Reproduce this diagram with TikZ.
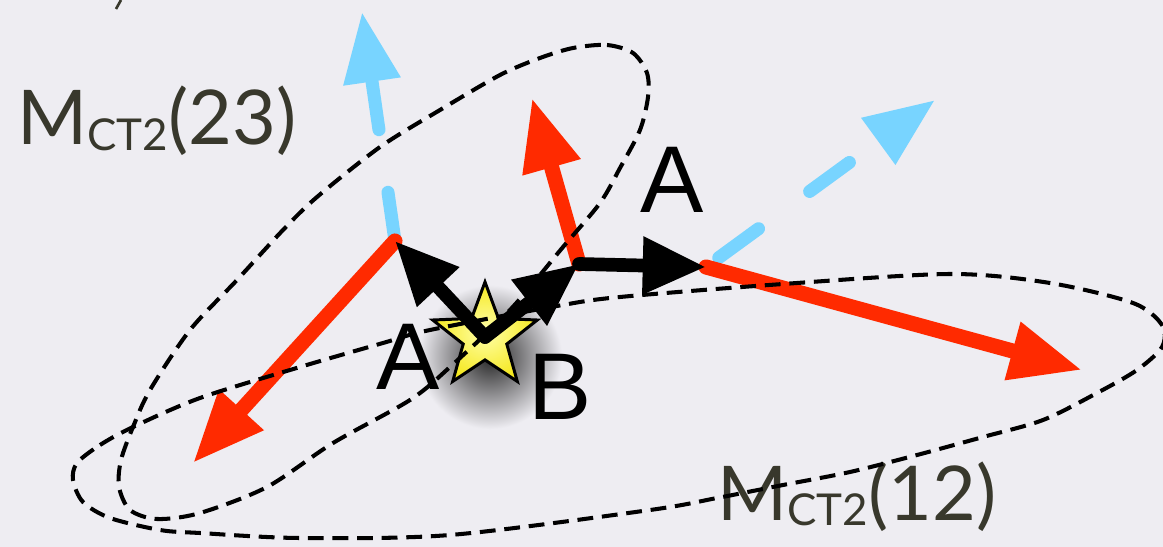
\documentclass[tikz,border=0pt]{standalone}
\usepackage{fontspec}
\usepackage{tikz}
\usetikzlibrary{arrows.meta, shapes.geometric, positioning}
\newfontfamily\lblfont{Liberation Sans}
\newfontfamily\mfont{Lato}
\definecolor{mybg}{RGB}{238,237,242}
\definecolor{myred}{RGB}{255,42,0}
\definecolor{myblue}{RGB}{120,212,255}
\definecolor{mytext}{RGB}{56,56,44}
\definecolor{starlight}{RGB}{255,255,170}
\definecolor{stardark}{RGB}{245,232,30}

\begin{document}
\begin{tikzpicture}[
    x=0.02cm, y=-0.02cm,
    redarrow/.style={draw=myred, line width=8.6pt, line cap=round, -{Triangle[length=41pt,width=32pt]}},
    blackarrow/.style={draw=black, line width=7.8pt, line cap=round, -{Triangle[length=36pt,width=31pt]}},
    bluearrow/.style={draw=myblue, line width=7.4pt, line cap=round, dash pattern=on 28pt off 36pt, -{Triangle[length=40pt,width=31pt]}},
    mregion/.style={draw=black, line width=2.3pt, dash pattern=on 9pt off 5pt},
    lbl/.style={font=\lblfont\fontsize{54}{54}\selectfont, inner sep=0pt},
    mlabel/.style={font=\mfont\fontsize{43}{43}\selectfont, text=mytext, inner sep=0pt, anchor=base west}
]
% background and size
\fill[mybg] (0,0) rectangle (1163,547);
\useasboundingbox (0,0) rectangle (1163,547);
\draw[mytext, line width=1.5pt] (121,0) -- (116,9);

% star with its shadow
\shade[inner color=black!85, outer color=mybg] (490,357) circle (72);
\node[star, star points=5, star point ratio=2.4, minimum size=2.2cm, inner sep=0pt,
      draw=black, line width=1.7pt, inner color=starlight, outer color=stardark] (star) at (485,337) {};

% junctions and ends
\coordinate (jl) at (395,241);
\coordinate (jm) at (579,264);
\coordinate (jr) at (706,267);
\coordinate (rl) at (193,463);
\coordinate (rm) at (532,98);
\coordinate (rr) at (1082,370);
\coordinate (bl) at (362,12);
\coordinate (br) at (935,100);

\draw[bluearrow] (jl) -- (bl);
\draw[bluearrow, dash phase=55pt] (jr) -- (br);
\draw[redarrow] (jl) -- (rl);
\draw[redarrow] (jm) -- (rm);
\draw[redarrow] (jr) -- (rr);
\draw[blackarrow] (star.center) -- (jl);
\draw[blackarrow] (star.center) -- (jm);
\draw[blackarrow] (jm) -- (jr);

\node[mlabel] (m23) at (17,145) {M\raisebox{-3pt}{\fontsize{25}{25}\selectfont CT2}(23)};
\node[mlabel] (m12) at (717,520) {M\raisebox{-3pt}{\fontsize{25}{25}\selectfont CT2}(12)};

% regions
\draw[mregion] plot[smooth cycle] coordinates {(573,48) (607,45) (633,53) (647,73) (648,97) (640,130)
  (620,168) (600,203) (563,247) (510,310) (450,367) (410,400) (333,443) (267,487) (200,513)
  (157,519) (130,510) (119,487) (121,460) (133,427) (150,390) (190,330) (237,280) (283,230)
  (317,197) (380,147) (440,110) (500,75) (540,58)};
\draw[mregion] plot[smooth cycle] coordinates {(77,463) (100,445) (133,427) (200,398) (300,367)
  (383,343) (430,330) (557,306) (620,297) (783,284) (950,274) (1050,283) (1133,303) (1162,325)
  (1162,347) (1137,370) (1097,393) (1043,420) (983,437) (917,455) (850,472) (783,485) (717,498)
  (650,510) (450,535) (300,538) (200,533) (160,530) (110,518) (83,502) (73,480)};

\node[lbl] (atop) at (672,180) {A};
\node[lbl] (aleft) at (408,357) {A};
\node[lbl] (blabel) at (560,387) {B};
\end{tikzpicture}
\end{document}
